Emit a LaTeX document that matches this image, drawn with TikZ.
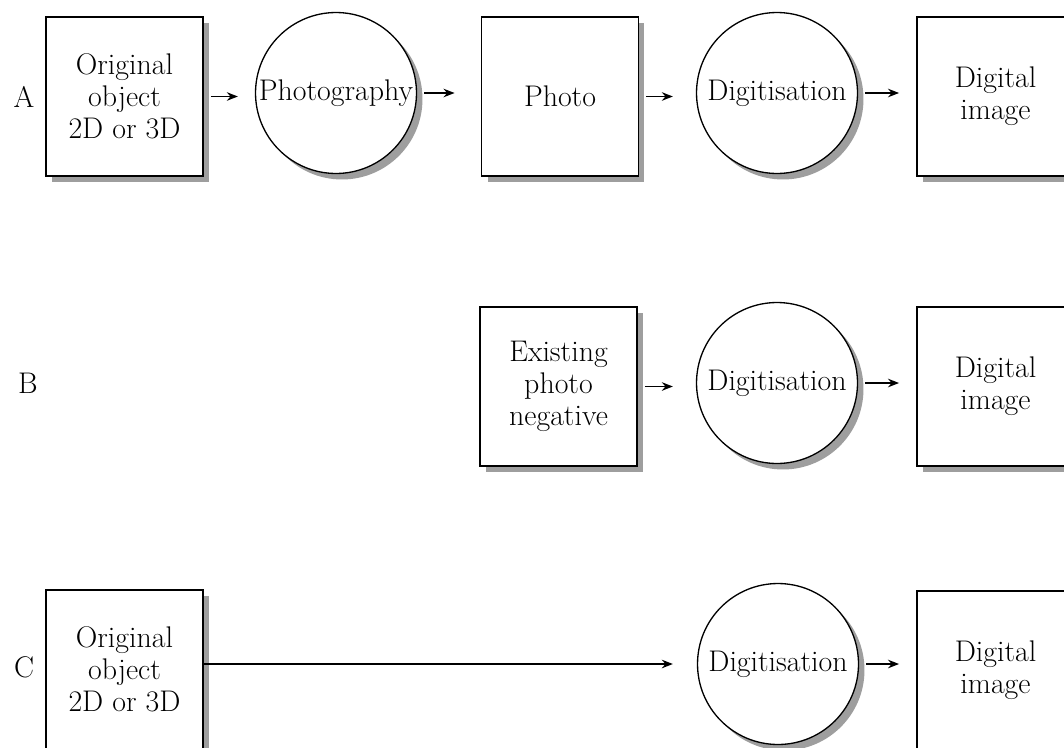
\documentclass[tikz,border=0pt]{standalone}
\usetikzlibrary{shapes,shadows,arrows.meta}
\begin{document}
\begin{tikzpicture}[x=0.02cm,y=-0.02cm,
  txt/.style={font=\fontsize{17}{18.2}\selectfont},
  shade/.style={drop shadow={shadow xshift=0.12cm,shadow yshift=-0.12cm,fill=black!38,opacity=1}},
  box/.style={txt,shade,draw,line width=1.1pt,fill=white,minimum width=3.14cm,minimum height=3.18cm,align=center,inner sep=0pt},
  proc/.style={txt,shade,draw,circle,line width=0.75pt,fill=white,minimum size=3.22cm,inner sep=0pt},
  arr/.style={-{Stealth[length=0.22cm,width=0.17cm]},line width=1pt,shorten <=0.14cm,shorten >=0.34cm}]
\clip (0,0) rectangle (1064,747);
\fill [white] (0,0) rectangle (1064,747);
\node [txt] (la) at (24,97) {A};
\node [txt] (lb) at (28,383) {B};
\node [txt] (lc) at (24,667) {C};
\node [box] (objA) at (124.5,96.5) {Original\\object\\2D or 3D};
\node [proc] (photog) at (336,93) {Photography};
\node [box] (photo) at (560,96.5) {Photo};
\node [proc] (digA) at (777,93) {Digitisation};
\node [box] (imgA) at (995.5,96.5) {Digital\\image};
\node [box] (neg) at (558.5,386.5) {Existing\\photo\\negative};
\node [proc] (digB) at (777,383) {Digitisation};
\node [box] (imgB) at (995.5,386.5) {Digital\\image};
\node [box] (objC) at (124.5,669.5) {Original\\object\\2D or 3D};
\node [proc] (digC) at (778,664) {Digitisation};
\node [box] (imgC) at (995.5,670.5) {Digital\\image};
\draw [arr] (objA.east) -- (objA.east -| photog.west);
\draw [arr,shorten >=0.52cm] (photog.east) -- (photog.east -| photo.west);
\draw [arr,shorten >=0.46cm] (photo.east) -- (photo.east -| digA.west);
\draw [arr] (digA.east) -- (digA.east -| imgA.west);
\draw [arr,shorten >=0.46cm] (neg.east) -- (neg.east -| digB.west);
\draw [arr] (digB.east) -- (digB.east -| imgB.west);
\draw [arr,shorten <=0cm,shorten >=0.48cm] (digC.west -| objC.east) -- (digC.west);
\draw [arr] (digC.east) -- (digC.east -| imgC.west);
\end{tikzpicture}
\end{document}
